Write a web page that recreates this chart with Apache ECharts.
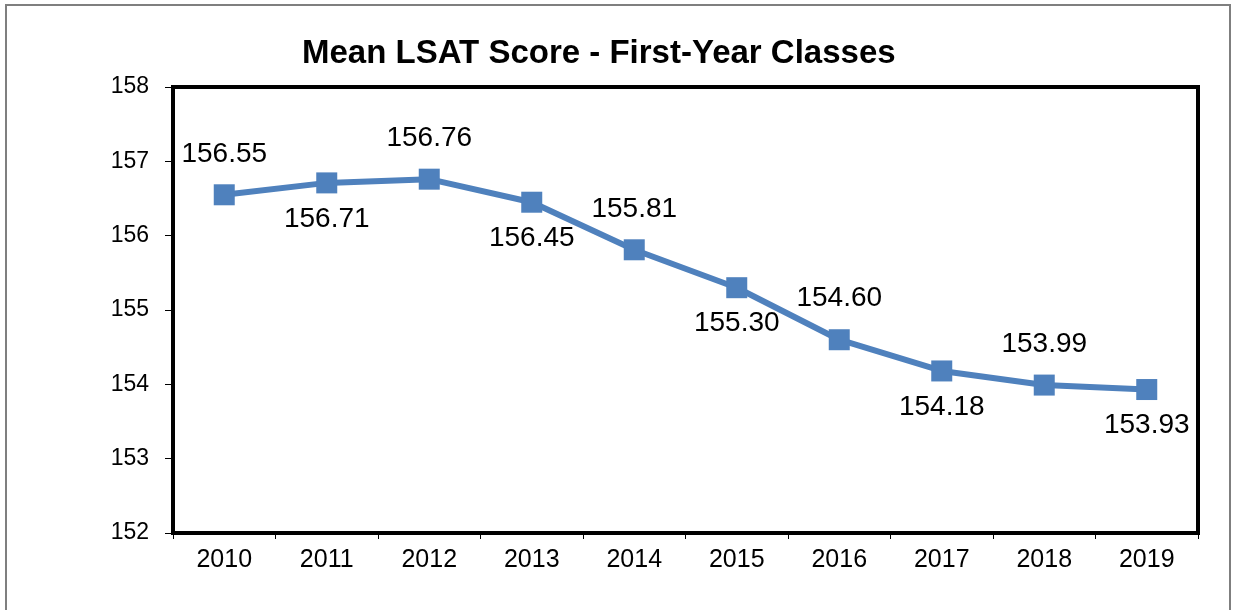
<!DOCTYPE html>
<html>
<head>
    <meta charset="utf-8">
    <title>Mean LSAT Score</title>
    <script src="https://cdn.jsdelivr.net/npm/echarts@6/dist/echarts.min.js"></script>
</head>
<body style="margin:0;background:#fff;">
<div id="main" style="width:1233px;height:610px;"></div>
<script type="text/javascript">
    // 数据
    var years = ['2010', '2011', '2012', '2013', '2014', '2015', '2016', '2017', '2018', '2019'];
    var meanScores = [156.55, 156.71, 156.76, 156.45, 155.81, 155.30, 154.60, 154.18, 153.99, 153.93];
    var yTicks = [152, 158, 1]; // min, max, interval

    var font = 'Arial, "Liberation Sans", sans-serif';

    // 标签一上一下交替
    var points = meanScores.map(function (v, i) {
        var up = i % 2 === 0;
        return {
            value: v,
            label: {
                position: 'inside',
                offset: [0, up ? -41 : 36]
            }
        };
    });

    var myChart = echarts.init(document.getElementById('main'));
    myChart.setOption({
        animation: false,
        title: {
            text: 'Mean LSAT Score - First-Year Classes',
            left: 302,
            top: 37,
            padding: 0,
            textStyle: {
                fontFamily: font,
                fontSize: 33,
                fontWeight: 'bold',
                color: '#000'
            }
        },
        graphic: [{
            type: 'rect',
            shape: { x: 6, y: 5, width: 1224, height: 640 },
            style: { fill: 'none', stroke: '#7f7f7f', lineWidth: 2 },
            silent: true
        }],
        grid: {
            left: 173,
            top: 87,
            right: 35,
            bottom: 77,
            show: true,
            borderColor: '#000',
            borderWidth: 4,
            backgroundColor: 'transparent'
        },
        xAxis: {
            type: 'category',
            data: years,
            boundaryGap: true,
            axisLine: { lineStyle: { color: '#000', width: 4 } },
            axisTick: {
                show: true,
                alignWithLabel: false,
                length: 6,
                lineStyle: { color: '#000', width: 1 }
            },
            axisLabel: {
                margin: 15,
                fontFamily: font,
                fontSize: 25,
                color: '#000'
            },
            splitLine: { show: false }
        },
        yAxis: {
            type: 'value',
            min: yTicks[0],
            max: yTicks[1],
            interval: yTicks[2],
            axisLine: { show: true, lineStyle: { color: '#000', width: 4 } },
            axisTick: {
                show: true,
                length: 8,
                lineStyle: { color: '#000', width: 1 }
            },
            axisLabel: {
                margin: 24,
                fontFamily: font,
                fontSize: 23,
                color: '#000'
            },
            splitLine: { show: false }
        },
        series: [{
            name: 'Mean LSAT',
            type: 'line',
            data: points,
            symbol: 'rect',
            symbolSize: 21,
            lineStyle: { color: '#4F81BD', width: 6 },
            itemStyle: { color: '#4F81BD' },
            label: {
                show: true,
                fontFamily: font,
                fontSize: 28,
                color: '#000',
                formatter: function (p) { return p.value.toFixed(2); }
            },
            z: 3
        }]
    });
</script>
</body>
</html>
